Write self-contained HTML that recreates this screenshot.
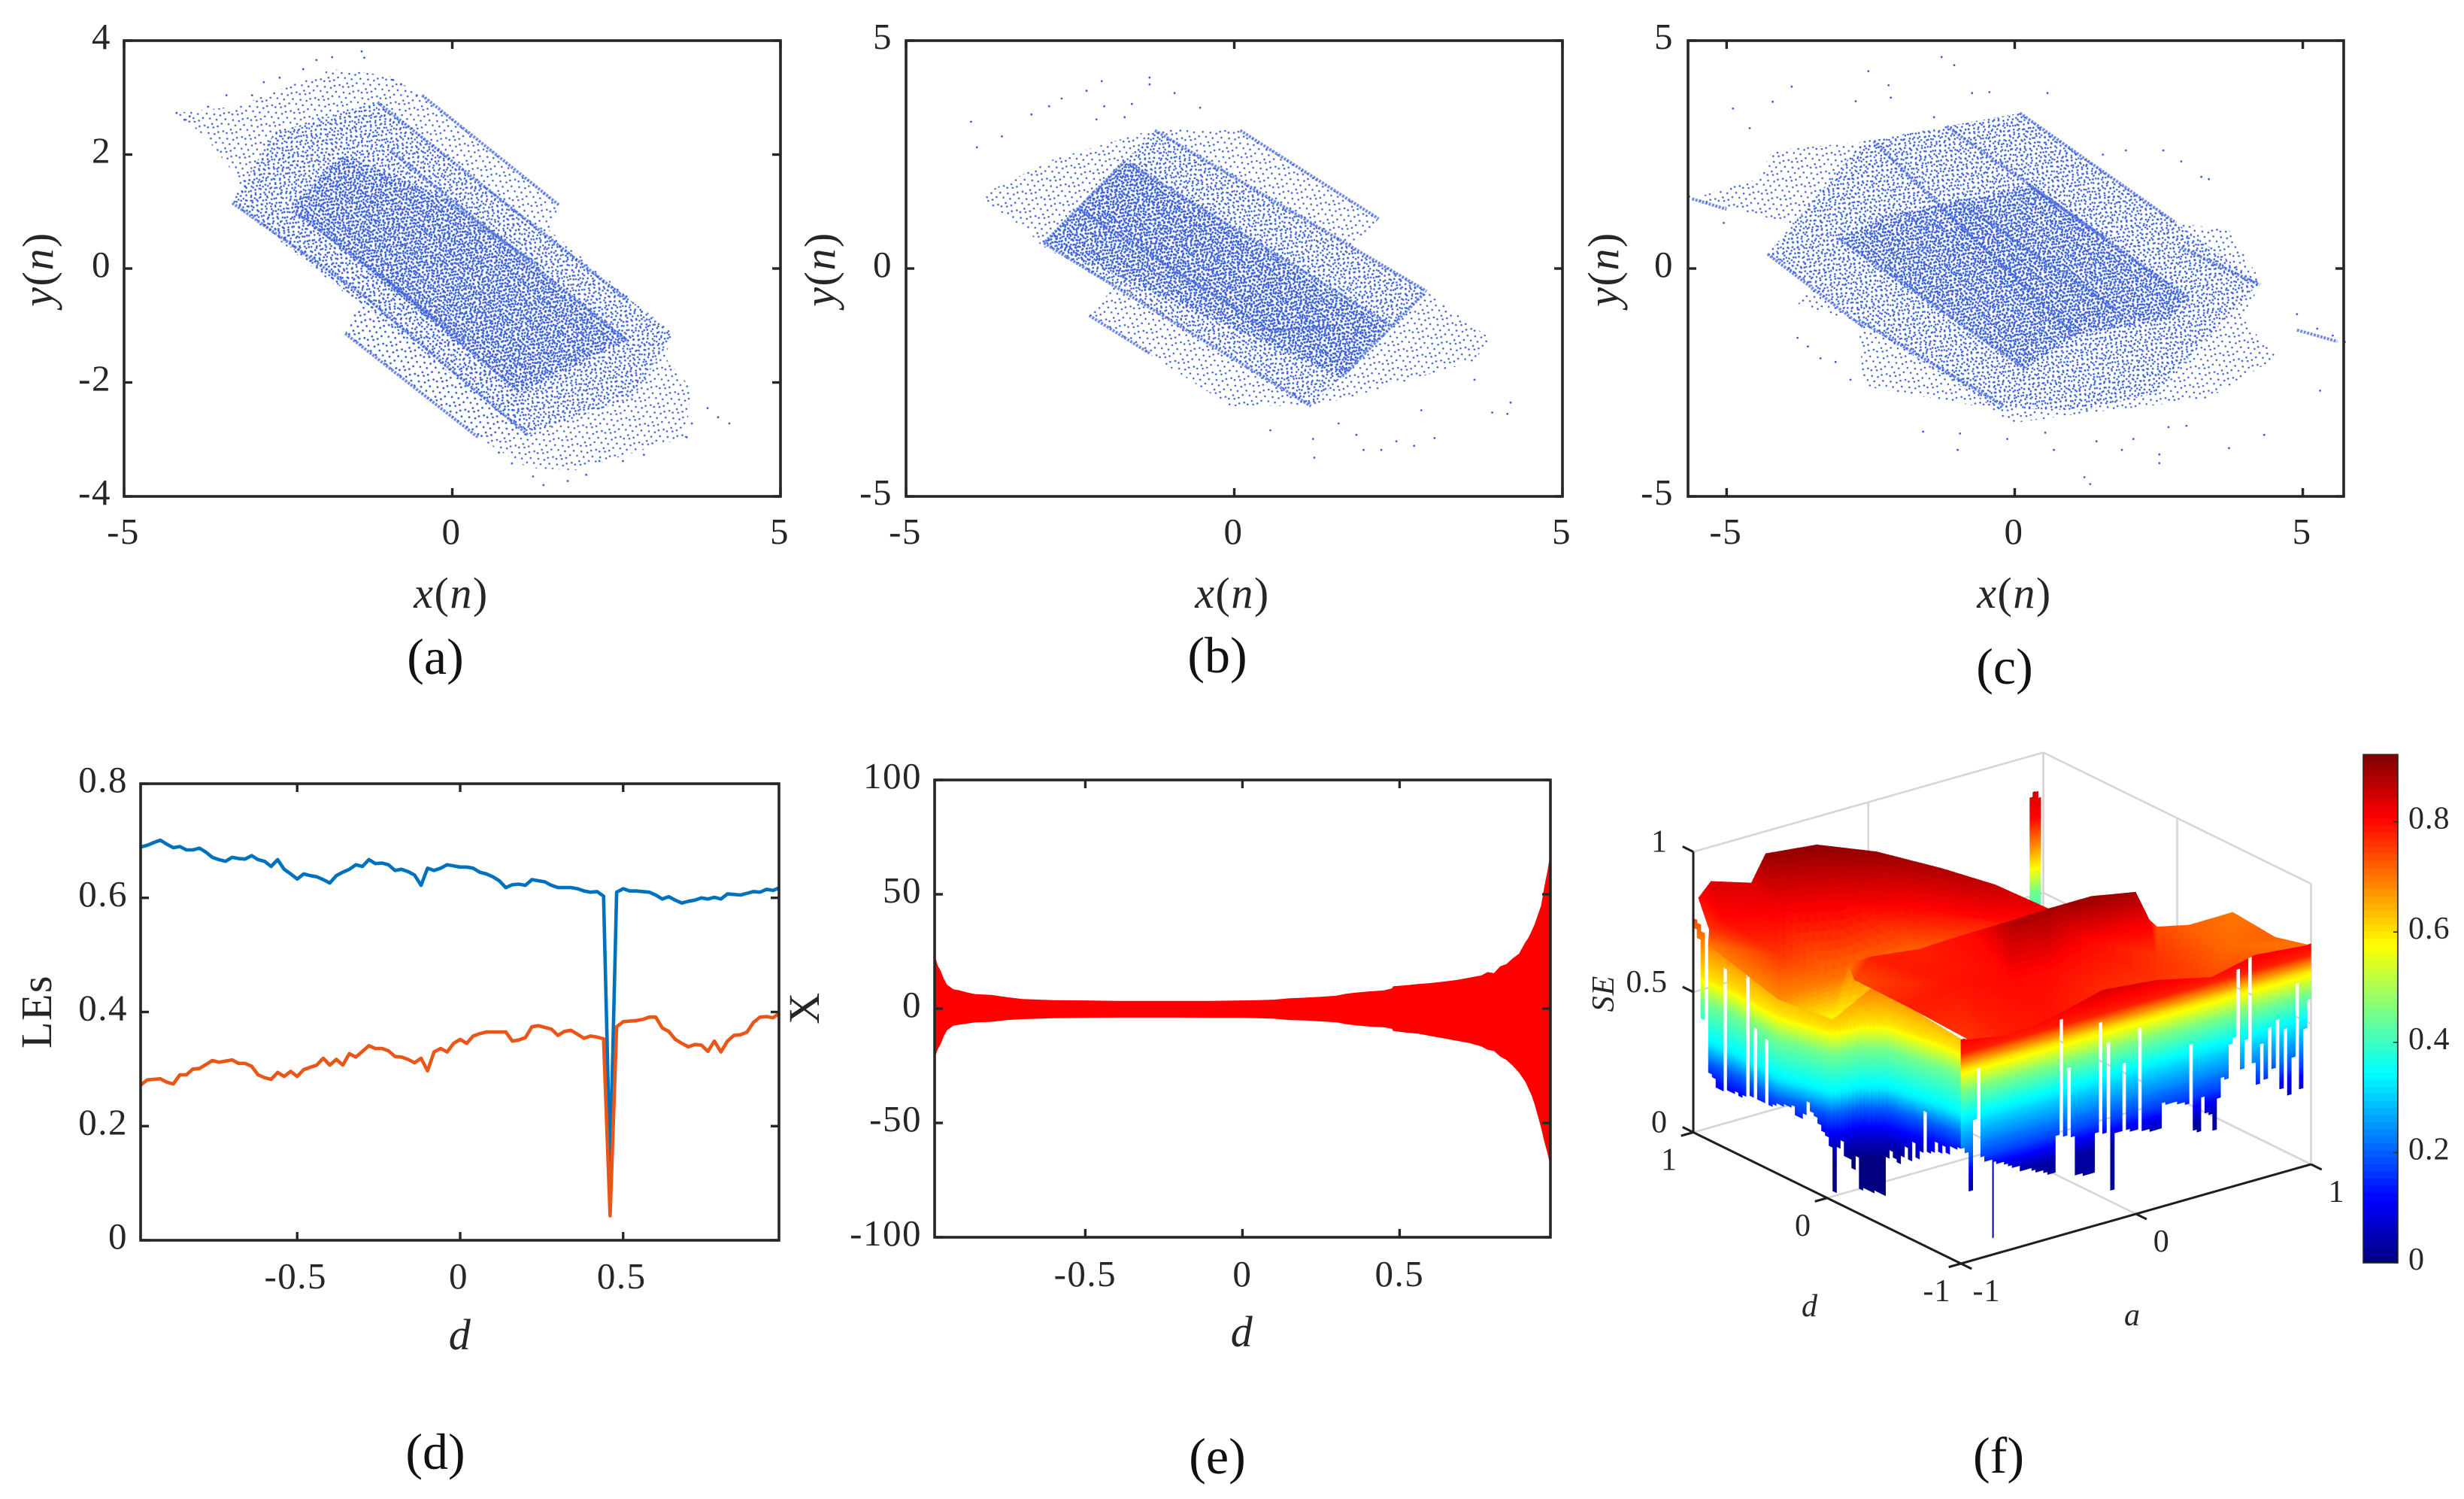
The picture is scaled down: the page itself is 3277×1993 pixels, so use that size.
<!DOCTYPE html>
<html lang="en">
<head>
<meta charset="utf-8">
<title>Attractors, Lyapunov exponents, bifurcation and SE surface</title>
<style>
html,body{margin:0;padding:0;background:#fff;}
svg{display:block;}
text{font-family:"Liberation Serif","DejaVu Serif",serif;fill:#262626;}
.tick{font-size:49px;letter-spacing:1.5px;}
.tick3d{font-size:42px;letter-spacing:1px;}
.axis-label{font-size:58px;letter-spacing:1.5px;}
.panel-tag{font-size:68px;fill:#111;}
.it{font-style:italic;}
</style>
</head>
<body>
<svg id="figure" xmlns="http://www.w3.org/2000/svg" width="3277" height="1993" viewBox="0 0 3277 1993">
<defs>
<pattern id="stipple-sparse" width="26" height="26" patternUnits="userSpaceOnUse" patternTransform="rotate(17)">
<g fill="#3a60da"><circle cx="2" cy="3" r="1.3"/><circle cx="9" cy="1" r="1.3"/><circle cx="17" cy="5" r="1.3"/><circle cx="23" cy="2" r="1.3"/><circle cx="5" cy="10" r="1.3"/><circle cx="13" cy="9" r="1.3"/><circle cx="21" cy="12" r="1.3"/><circle cx="1" cy="17" r="1.3"/><circle cx="10" cy="16" r="1.3"/><circle cx="18" cy="19" r="1.3"/><circle cx="6" cy="23" r="1.3"/><circle cx="14" cy="24" r="1.3"/></g>
</pattern>
<pattern id="stipple-medium" width="21" height="21" patternUnits="userSpaceOnUse" patternTransform="rotate(-23)">
<g fill="#3a60da"><circle cx="1" cy="2" r="1.35"/><circle cx="8" cy="4" r="1.35"/><circle cx="15" cy="1" r="1.35"/><circle cx="19" cy="7" r="1.35"/><circle cx="4" cy="8" r="1.35"/><circle cx="11" cy="10" r="1.35"/><circle cx="17" cy="13" r="1.35"/><circle cx="2" cy="14" r="1.35"/><circle cx="8" cy="16" r="1.35"/><circle cx="14" cy="19" r="1.35"/><circle cx="20" cy="18" r="1.35"/><circle cx="5" cy="20" r="1.35"/><circle cx="12" cy="5" r="1.35"/></g>
</pattern>
<pattern id="stipple-dense" width="17" height="17" patternUnits="userSpaceOnUse" patternTransform="rotate(41)">
<g fill="#3a60da"><circle cx="1" cy="1" r="1.45"/><circle cx="6" cy="3" r="1.45"/><circle cx="12" cy="2" r="1.45"/><circle cx="16" cy="6" r="1.45"/><circle cx="3" cy="7" r="1.45"/><circle cx="9" cy="8" r="1.45"/><circle cx="14" cy="11" r="1.45"/><circle cx="1" cy="12" r="1.45"/><circle cx="6" cy="13" r="1.45"/><circle cx="11" cy="15" r="1.45"/><circle cx="16" cy="15" r="1.45"/><circle cx="4" cy="16" r="1.45"/><circle cx="9" cy="12" r="1.45"/></g>
</pattern>
</defs>

<g id="layer-a"></g>
<g id="layer-b"></g>
<g id="layer-c"></g>
<g id="layer-d"></g>
<g id="layer-e"></g>
<g id="layer-f"></g>

<text class="axis-label" x="600" y="808" text-anchor="middle"><tspan class="it">x</tspan>(<tspan class="it">n</tspan>)</text>
<text class="axis-label" x="1639" y="808" text-anchor="middle"><tspan class="it">x</tspan>(<tspan class="it">n</tspan>)</text>
<text class="axis-label" x="2679" y="808" text-anchor="middle"><tspan class="it">x</tspan>(<tspan class="it">n</tspan>)</text>
<text class="axis-label" transform="translate(70,358) rotate(-90)" text-anchor="middle"><tspan class="it">y</tspan>(<tspan class="it">n</tspan>)</text>
<text class="axis-label" transform="translate(1110,358) rotate(-90)" text-anchor="middle"><tspan class="it">y</tspan>(<tspan class="it">n</tspan>)</text>
<text class="axis-label" transform="translate(2152,358) rotate(-90)" text-anchor="middle"><tspan class="it">y</tspan>(<tspan class="it">n</tspan>)</text>

<text class="axis-label" transform="translate(68,1345) rotate(-90)" text-anchor="middle">LEs</text>
<text class="axis-label it" x="612" y="1794" text-anchor="middle">d</text>
<text class="axis-label" transform="translate(1089,1340) rotate(-90)" text-anchor="middle">X</text>
<text class="axis-label it" x="1652" y="1790" text-anchor="middle">d</text>
<text class="tick3d it" transform="translate(2146,1321) rotate(-90)" text-anchor="middle">SE</text>
<text class="tick3d it" x="2407" y="1750" text-anchor="middle">d</text>
<text class="tick3d it" x="2836" y="1762" text-anchor="middle">a</text>

<text class="panel-tag" x="579" y="896" text-anchor="middle">(a)</text>
<text class="panel-tag" x="1619" y="894" text-anchor="middle">(b)</text>
<text class="panel-tag" x="2666" y="909" text-anchor="middle">(c)</text>
<text class="panel-tag" x="579" y="1953" text-anchor="middle">(d)</text>
<text class="panel-tag" x="1619" y="1959" text-anchor="middle">(e)</text>
<text class="panel-tag" x="2658" y="1958" text-anchor="middle">(f)</text>
</svg>

<script>
/* ---------- panel (a) data, in x(n), y(n) units ---------- */
const aXTicks = [-5, 0, 5];
const aYTicks = [-4, -2, 0, 2, 4];
const aSparseRegion = [[-4.2,2.73],[-3.27,2.85],[-1.83,3.5],[-.98,3.39],[-.46,3.04],[1.63,1.11],[1.47,.68],[3.36,-1.14],[3.24,-1.56],[3.64,-2.1],[3.56,-2.96],[1.87,-3.54],[1.15,-3.5],[.43,-2.99],[-1.63,-1.14],[-1.42,-.63],[-3.35,1.18],[-3.23,1.53],[-3.76,2.31]];
const aMediumRegion = [[-2.71,2.38],[-1.14,2.92],[3.36,-1.14],[2.76,-2.26],[1.15,-2.92],[-3.35,1.18]];
const aDenseRegion = [[-1.67,2],[-.22,1.3],[2.68,-1.25],[1.03,-2.18],[-2.47,1.07]];
const aLowerStrip = [[-3.35,1.15],[-2.4,1],[1.1,-2.2],[1.15,-2.92],[.39,-2.96],[-1.63,-1.14],[-1.42,-.63]];
const aEdges = [
  [[-1.14,2.92],[2.68,-.56]],
  [[-.94,2.07],[2.68,-1.29]],
  [[-3.35,1.15],[-1.34,-.48],[1.15,-2.92]],
  [[-1.63,-1.14],[.39,-2.96]],
  [[-.46,3.04],[1.63,1.11]],
  [[-2.39,.99],[.19,-1.25]],
  [[-1.1,-.09],[1.03,-2.18]],
  [[-.14,1.22],[1.31,.06]]
];
const aStrayPoints = [[-4.2,2.73],[-4.08,2.61],[-4,2.67],[-3.72,2.84],[-3.44,3.04],[-3.05,3.04],[-2.87,3.27],[-2.63,3.35],[-2.27,3.5],[-2.07,3.66],[-1.83,3.71],[-1.38,3.81],[-1.34,3.7],[-.9,3.31],[-.78,3.23],[-.54,3.04],[3.89,-2.45],[4.05,-2.61],[4.22,-2.72],[3.65,-2.72],[3.57,-2.96],[2.92,-3.27],[2.6,-3.38],[2.24,-3.38],[2.04,-3.62],[1.76,-3.73],[1.39,-3.8],[1.23,-3.65],[.91,-3.42],[.71,-3.23]];

/* ---------- panel (b) data ---------- */
const bXTicks = [-5, 0, 5];
const bYTicks = [-5, 0, 5];
const bSparseRegion = [[-3.9,1.58],[-2.75,2.4],[-1.21,3.06],[.09,3.03],[2.2,1.09],[1.78,.42],[2.93,-.5],[3.93,-1.57],[3.62,-2.05],[1.78,-2.82],[1.2,-3.02],[-.06,-3.02],[-2.21,-1.03],[-1.83,-.41],[-2.94,.51],[-3.17,.85]];
const bMediumRegion = [[-1.67,2.35],[-1.21,3.03],[2.93,-.5],[1.63,-2.39],[1.17,-3.02],[-2.9,.56]];
const bDenseRegion = [[-1.67,2.35],[2.32,-1.28],[1.63,-2.39],[-2.9,.56]];
const bCoreRegion = [[-2.33,1.29],[-1.6,2.3],[2.36,-1.23],[1.63,-2.34],[.55,-1.37]];
const bEdges = [
  [[-2.9,.56],[1.17,-3.02]],
  [[-2.21,-1.03],[-1.29,-1.86]],
  [[-1.21,3.03],[2.93,-.5]],
  [[.09,3.03],[2.2,1.09]],
  [[-1.67,2.35],[-2.9,.56]],
  [[-2.36,1.29],[.55,-1.37]],
  [[-1.6,2.3],[2.36,-1.23]],
  [[.55,-1.37],[1.47,-1.28]],
  [[2.89,-.55],[1.63,-2.39]]
];
const bStrayPoints = [[-4.01,3.22],[-3.92,2.66],[-3.54,2.9],[-3.09,3.38],[-2.63,3.73],[-2.25,3.9],[-2.02,4.11],[-1.29,4.19],[-1.29,4.04],[-.91,3.85],[-.52,3.53],[-1.98,3.56],[-1.56,3.61],[-1.67,3.32],[-2.1,3.27],[-2.82,3.56],[4.21,-2.94],[4.16,-3.19],[3.93,-3.16],[3.05,-3.72],[2.24,-3.98],[1.97,-3.98],[1.22,-4.15],[1.2,-3.74],[.55,-3.55],[2.47,-3.79],[2.74,-3.89],[1.86,-3.65],[1.59,-3.4],[2.85,-3.11],[3.66,-2.44]];

/* ---------- panel (c) data ---------- */
const cXTicks = [-5, 0, 5];
const cYTicks = [-5, 0, 5];
const cSparseRegion = [[-5.6,1.53],[-4.47,1.96],[-4.2,2.59],[-2.54,2.79],[-1.18,3.12],[.09,3.41],[2.8,1],[3.72,.85],[4.29,-.31],[3.94,-1.08],[4.55,-1.95],[3.33,-2.87],[1.31,-3.16],[-.09,-3.4],[-.44,-3.07],[-2.63,-2.58],[-2.71,-1.18],[-3.77,-.79],[-3.5,-.41],[-4.29,.32],[-3.77,.95]];
const cMediumRegion = [[-4.29,.32],[-2.63,2.79],[-1.18,3.12],[.09,3.41],[2.8,1],[4.25,-.31],[2.45,-2.73],[1.23,-3.11],[-.35,-3.07],[-2.71,-1.13]];
const cDenseRegion = [[-3.06,.66],[-2.28,1.14],[-1.01,1.48],[.26,1.82],[3.02,-.65],[2.71,-1.08],[1.05,-1.47],[.18,-2.2]];
const cCoreRegion = [[-1.84,1.04],[-1.01,1.48],[1.75,-.89],[1.05,-1.47]];
const cEdges = [
  [[-3.06,.66],[.18,-2.2]],
  [[-4.29,.32],[-2.63,-1.28]],
  [[-2.71,-1.13],[-.18,-3.02]],
  [[-1.01,1.48],[1.75,-.89]],
  [[.26,1.82],[3.02,-.65]],
  [[-1.18,3.12],[1.58,.66]],
  [[.09,3.41],[2.8,1]],
  [[-2.45,2.79],[1.05,-1.47]],
  [[2.89,.46],[4.25,-.36]],
  [[-5.6,1.53],[-5,1.3]],
  [[4.9,-1.35],[5.6,-1.6]]
];
const cStrayPoints = [[-1.27,4.64],[-1.05,4.46],[-2.54,4.33],[-3.87,3.99],[-4.2,3.66],[-4.89,3.51],[-4.6,3.08],[-2.19,4.02],[-2.15,3.75],[-2.76,3.67],[-.74,3.85],[-.44,3.87],[.57,3.85],[-1.4,3.32],[-5.65,1.58],[-5.05,1],[5.3,-2.68],[4.9,-1],[5.73,-1.61],[5.25,-1.32],[5.52,-1.47],[4.33,-3.65],[3.72,-3.94],[2.51,-4.27],[2.51,-4.08],[1.31,-4.73],[1.21,-4.58],[1.86,-3.98],[2.06,-3.74],[1.42,-3.79],[.68,-3.98],[-.13,-3.74],[-.99,-3.98],[-.95,-3.62],[-1.59,-3.58],[.53,-3.6],[2.98,-3.45],[2.67,-3.48],[-3.77,-1.52],[-3.59,-1.71],[-3.37,-1.97],[-3.11,-2.05],[-2.85,-2.44],[3.37,1.96],[2.89,2.35],[2.58,2.59],[1.93,2.59],[1.53,2.5],[3.24,2.01]];

/* ---------- panel (d) data ---------- */
const dXTicks = [-0.5, 0, 0.5];
const dYTicks = [0, 0.2, 0.4, 0.6, 0.8];
const dGrid = [-.98,-.96,-.94,-.92,-.9,-.88,-.86,-.84,-.82,-.8,-.78,-.76,-.74,-.72,-.7,-.68,-.66,-.64,-.62,-.6,-.58,-.56,-.54,-.52,-.5,-.48,-.46,-.44,-.42,-.4,-.38,-.36,-.34,-.32,-.3,-.28,-.26,-.24,-.22,-.2,-.18,-.16,-.14,-.12,-.1,-.08,-.06,-.04,-.02,0,.02,.04,.06,.08,.1,.12,.14,.16,.18,.2,.22,.24,.26,.28,.3,.32,.34,.36,.38,.4,.42,.44,.46,.48,.5,.52,.54,.56,.58,.6,.62,.64,.66,.68,.7,.72,.74,.76,.78,.8,.82,.84,.86,.88,.9,.92,.94,.96,.98];
const le1Values = [.689,.692,.697,.701,.694,.688,.69,.684,.684,.687,.68,.671,.667,.664,.671,.669,.668,.674,.667,.664,.655,.667,.65,.642,.633,.642,.639,.637,.632,.626,.639,.645,.65,.658,.655,.667,.66,.661,.658,.648,.65,.646,.64,.622,.652,.648,.652,.658,.656,.654,.654,.652,.645,.642,.637,.63,.618,.623,.624,.622,.632,.63,.628,.622,.618,.618,.618,.616,.612,.61,.611,.603,.13,.61,.616,.612,.612,.611,.61,.605,.598,.602,.596,.591,.594,.596,.6,.598,.601,.598,.607,.606,.605,.608,.611,.61,.615,.613,.618];
const le2Values = [.272,.281,.282,.283,.277,.274,.29,.29,.3,.301,.308,.315,.312,.314,.316,.31,.31,.305,.29,.285,.282,.294,.287,.296,.287,.299,.303,.307,.319,.307,.317,.307,.327,.321,.331,.341,.336,.336,.332,.322,.321,.317,.311,.319,.297,.33,.336,.33,.345,.352,.345,.358,.362,.365,.365,.365,.365,.349,.351,.355,.374,.376,.373,.37,.359,.366,.368,.361,.354,.358,.356,.353,.043,.374,.383,.384,.385,.387,.391,.391,.372,.366,.352,.345,.339,.343,.342,.331,.349,.33,.349,.359,.36,.365,.382,.391,.392,.39,.398];

/* ---------- panel (e) data ---------- */
const eXTicks = [-0.5, 0, 0.5];
const eYTicks = [-100, -50, 0, 50, 100];
const eD = [-.98,-.97,-.96,-.95,-.94,-.92,-.9,-.88,-.85,-.8,-.75,-.7,-.6,-.5,-.4,-.3,-.2,-.1,0,.05,.1,.15,.2,.25,.3,.33,.36,.4,.45,.475,.48,.52,.56,.6,.64,.68,.72,.76,.78,.8,.82,.84,.86,.88,.9,.91,.92,.93,.94,.95,.96,.97,.98];
const eUpper = [24,19,16.5,13,10.5,8.5,8,7.2,6.3,6,5,4.2,3.7,3.6,3.4,3.4,3.4,3.4,3.6,3.7,3.9,4.5,4.8,5.2,5.7,6.5,7,7.5,8,8.8,9.8,10.2,10.8,11.2,11.8,12.5,13.5,14.5,16,15.5,18.5,19.5,22,24,29,31,34,37,41,45,53,60,68];
const eLower = [-22,-18,-15.5,-12,-9.5,-7.5,-7,-6.6,-6,-5.8,-5,-4.6,-4.2,-4,-3.9,-3.9,-3.9,-4,-4,-4.2,-4.4,-5,-5.2,-5.6,-6,-6.8,-7.3,-7.8,-8.2,-8.8,-9.8,-10.5,-11,-12,-13,-14,-15,-16.5,-18,-18.5,-21,-22.5,-25,-28,-32,-35,-38,-42,-47,-52,-58,-63,-69];

/* ---------- panel (f) data: surface vertices, facets and front curtains ---------- */
const fZTicks = [0, 0.5, 1];
const fDTicks = [-1, 0, 1];
const fATicks = [-1, 0, 1];
const colorbarTicks = [0, 0.2, 0.4, 0.6, 0.8];
const colorbarMax = 0.922;
const surfA = [-.97,-.906,-.668,-.586,-.294,-.13,.086,.18,.28,-.98,-.77,-.54,-.26,0,-1,-.87,-.73,-.41,.02,-1,-1,-1,-1,-1,-1,-.96,-.74,-.5,-.19,.12,.43,.68,.98,-.72,-.49,-.17,-.03,.13,.32,.51,.52,.58,.71,.92,.91,-.34,.19,-.63,.37,.7,-.17];
const surfD = [1,.99,1,1,1,.77,.57,.29,.01,.79,.66,.47,.28,.06,.88,.53,.3,.09,-.04,.887,.362,-.042,-.164,-.204,-.608,-1,-1,-1,-1,-1,-1,-1,-1,.04,-.02,0,-.13,-.17,-.25,-.33,-.42,-.4,-.47,-.52,-.85,-.51,-.42,-.45,-.67,-.76,-.57];
const surfZ = [.83,.88,.83,.92,.9,.9,.85,.84,.8,.8,.85,.87,.83,.8,.75,.72,.66,.76,.8,.694,.623,.647,.869,.826,.823,.793,.769,.783,.834,.814,.769,.804,.786,.8,.8,.8,.85,.87,.9,.9,.82,.78,.78,.8,.79,.78,.8,.8,.78,.78,.8];
const surfC = [.8,.84,.84,.9,.91,.9,.88,.86,.82,.8,.82,.82,.8,.8,.76,.76,.7,.72,.78,.7,.68,.58,.7,.74,.78,.76,.78,.79,.77,.76,.74,.72,.7,.78,.78,.8,.88,.89,.9,.89,.82,.74,.72,.7,.72,.8,.8,.79,.76,.71,.8];
const hillFacets = [[0,1,9],[1,2,9],[2,10,9],[2,3,10],[3,4,10],[4,11,10],[4,5,11],[5,12,11],[5,6,12],[6,13,12],[6,7,13],[7,8,13],[0,9,14],[9,15,14],[9,10,15],[10,16,15],[10,11,16],[11,17,16],[11,12,17],[12,18,17],[12,13,18],[13,8,18],[14,15,19],[15,20,19],[15,16,20],[16,21,20],[16,17,21],[17,22,21],[17,33,22],[17,34,33],[17,35,34],[17,18,35]];
const plateauFacets = [[22,33,23],[33,47,23],[23,47,24],[24,47,25],[47,26,25],[33,34,47],[34,45,47],[47,45,26],[45,27,26],[34,35,45],[35,36,45],[45,50,27],[50,28,27],[50,46,28],[46,29,28],[46,48,29],[48,30,29],[48,49,30],[49,31,30],[49,32,31],[49,44,32],[41,42,49],[41,49,48],[42,43,49],[43,44,49],[40,41,48],[46,40,48],[37,38,46],[38,39,46],[39,40,46],[37,46,50],[36,37,50],[36,50,45]];

/* left curtain lies on a = -1, right curtain on d = -1 */
const leftTopD = [.97,.887,.362,-.042,-.143,-.164,-.204,-.608,-1];
const leftTopZ = [.763,.694,.623,.647,.776,.869,.826,.823,.8];
const rightTopA = [-1,-.96,-.74,-.5,-.19,.12,.43,.68,.98,1];
const rightTopZ = [.8,.793,.769,.783,.834,.814,.769,.804,.786,.786];
const leftBottomZ = [.8,.73,.7,.42,.75,.24,.23,.2,.2,.64,.21,.21,.22,.21,.22,.73,.23,.48,.23,.23,.46,.23,.24,.25,.25,.26,.26,.27,.24,.24,.26,.31,.28,.27,.25,.23,.22,.19,.035,.2,.23,.18,.18,.15,.2,.09,.1,.1,.1,.11,.11,.11,.25,.28,.26,.25,.28,.32,.28,.35,.3,.33,.48,.34,.35,.39,.36,.39,.37,.4,.4,.41];
const rightBottomZ = [.41,.39,.25,.5,.68,.36,.34,.34,.33,.32,.32,.31,.3,.29,.29,.27,.27,.27,.26,.25,.25,.24,.23,.23,.36,.77,.35,.59,.34,.2,.2,.19,.19,.19,.33,.72,.32,.64,.11,.31,.31,.55,.31,.3,.3,.66,.29,.29,.28,.28,.28,.37,.36,.36,.36,.35,.35,.34,.55,.24,.23,.35,.29,.28,.22,.33,.4,.39,.51,.53,.77,.41,.51,.8,.42,.34,.48,.35,.53,.38,.55,.3,.51,.27,.4,.66,.28,.49,.59,.73];
const leftColorZ = [.09,.15,.27,.34,.48,.57,.78,.9];
const leftColorC = [0,.05,.2,.33,.45,.6,.75,.85];
const leftColorShiftD = [1,.71,.362,-.042,-.25,-.446,-.85,-1];
const leftColorShift = [0,.01,0,.04,.11,.155,.185,.19];
const rightColorZ = [.27,.36,.51,.61,.69,.75,.85];
const rightColorC = [.03,.17,.33,.45,.6,.78,.85];
const spikeA = [-.945,-.82];
const spikeBottomZ = [.26,.06];
const spikeTopZ = [.79,.77];
const towerA = [.908,.925,.94,.955,.97];
const towerTopZ = [.843,.875,.878,.87,.83];
const towerBottomZ = [.47,.47,.47,.47,.47];
const towerColorZ = [.45,.52,.62,.78,.88];
const towerColorC = [.4,.45,.6,.8,.85];

/* ---------- helpers ---------- */
const NS = 'http://www.w3.org/2000/svg';
function make(parent, tag, attrs, name) {
  const node = document.createElementNS(NS, tag);
  for (const k in attrs) node.setAttribute(k, attrs[k]);
  
  
  parent.appendChild(node);
  return node;
}
function linear(d0, d1, r0, r1) { return v => r0 + (v - d0) * (r1 - r0) / (d1 - d0); }
function lerpTable(xs, ys, v) {
  if (xs[0] > xs[xs.length - 1]) { xs = xs.slice().reverse(); ys = ys.slice().reverse(); }
  if (v <= xs[0]) return ys[0];
  for (let i = 1; i < xs.length; i++) {
    if (v <= xs[i]) return ys[i - 1] + (ys[i] - ys[i - 1]) * (v - xs[i - 1]) / (xs[i] - xs[i - 1]);
  }
  return ys[ys.length - 1];
}
function jetColor(c) {
  const t = Math.max(0, Math.min(1, c / colorbarMax));
  const f = v => Math.round(255 * Math.max(0, Math.min(1, v)));
  return 'rgb(' + f(Math.min(4 * t - 1.5, -4 * t + 4.5)) + ',' + f(Math.min(4 * t - .5, -4 * t + 3.5)) + ',' + f(Math.min(4 * t + .5, -4 * t + 2.5)) + ')';
}
function label(parent, cls, x, y, anchor, str, name) {
  const t = make(parent, 'text', { class: cls, x: x, y: y, 'text-anchor': anchor }, name);
  t.textContent = str;
  return t;
}
function frame(parent, box, sx, sy, xTicks, yTicks, xTickDx, yLabelX, xLabelY, key) {
  make(parent, 'rect', { x: box.left, y: box.top, width: box.right - box.left, height: box.bottom - box.top, fill: 'none', stroke: '#262626', 'stroke-width': 3.6 }, 'plot-frame-' + key);
  xTicks.forEach(v => {
    const x = sx(v);
    make(parent, 'line', { x1: x, x2: x, y1: box.bottom, y2: box.bottom - 11, stroke: '#262626', 'stroke-width': 3.4 }, 'x-tick-' + key);
    make(parent, 'line', { x1: x, x2: x, y1: box.top, y2: box.top + 11, stroke: '#262626', 'stroke-width': 3.4 }, 'x-tick-top-' + key);
    label(parent, 'tick', x + xTickDx, xLabelY, 'middle', String(v), 'x-tick-label-' + key);
  });
  yTicks.forEach(v => {
    const y = sy(v);
    make(parent, 'line', { x1: box.left, x2: box.left + 11, y1: y, y2: y, stroke: '#262626', 'stroke-width': 3.4 }, 'y-tick-' + key);
    make(parent, 'line', { x1: box.right, x2: box.right - 11, y1: y, y2: y, stroke: '#262626', 'stroke-width': 3.4 }, 'y-tick-right-' + key);
    label(parent, 'tick', yLabelX, y + 11, 'end', String(v), 'y-tick-label-' + key);
  });
}

/* ---------- scatter panels ---------- */
function scatterPanel(key, box, xDom, yDom, xTicks, yTicks, regions, edges, strays, yLabelX) {
  const root = document.getElementById('layer-' + key);
  const sx = linear(xDom[0], xDom[1], box.left, box.right);
  const sy = linear(yDom[0], yDom[1], box.bottom, box.top);
  const pts = arr => arr.map(p => sx(p[0]).toFixed(1) + ',' + sy(p[1]).toFixed(1)).join(' ');
  regions.forEach(r => {
    make(root, 'polygon', { points: pts(r.poly), fill: 'url(#' + r.fill + ')' }, r.name + '-' + key);
  });
  edges.forEach(e => {
    make(root, 'polyline', { points: pts(e), fill: 'none', stroke: '#3a60da', 'stroke-width': 4, 'stroke-opacity': .72, 'stroke-dasharray': '3 1.6' }, 'dense-trajectory-edge-' + key);
  });
  strays.forEach(p => {
    make(root, 'circle', { cx: sx(p[0]).toFixed(1), cy: sy(p[1]).toFixed(1), r: 1.4, fill: '#3a60da' }, 'scatter-point-' + key);
  });
  frame(root, box, sx, sy, xTicks, yTicks, -1, yLabelX, 723, key);
}
const boxA = { left: 165, right: 1038, top: 54, bottom: 660 };
const boxB = { left: 1205, right: 2078, top: 54, bottom: 660 };
const boxC = { left: 2245, right: 3117, top: 54, bottom: 660 };
scatterPanel('a', boxA, [-5, 5], [-4, 4], aXTicks, aYTicks, [
  { poly: aSparseRegion, fill: 'stipple-sparse', name: 'sparse-cloud' },
  { poly: aMediumRegion, fill: 'stipple-medium', name: 'medium-cloud' },
  { poly: aLowerStrip, fill: 'stipple-sparse', name: 'lower-strip-cloud' },
  { poly: aDenseRegion, fill: 'stipple-dense', name: 'dense-cloud' }
], aEdges, aStrayPoints, 148);
scatterPanel('b', boxB, [-5, 5], [-5, 5], bXTicks, bYTicks, [
  { poly: bSparseRegion, fill: 'stipple-sparse', name: 'sparse-cloud' },
  { poly: bMediumRegion, fill: 'stipple-medium', name: 'medium-cloud' },
  { poly: bDenseRegion, fill: 'stipple-dense', name: 'dense-cloud' },
  { poly: bCoreRegion, fill: 'stipple-medium', name: 'core-cloud' }
], bEdges, bStrayPoints, 1187);
scatterPanel('c', boxC, [-5.67, 5.71], [-5, 5], cXTicks, cYTicks, [
  { poly: cSparseRegion, fill: 'stipple-sparse', name: 'sparse-cloud' },
  { poly: cMediumRegion, fill: 'stipple-medium', name: 'medium-cloud' },
  { poly: cDenseRegion, fill: 'stipple-dense', name: 'dense-cloud' },
  { poly: cCoreRegion, fill: 'stipple-medium', name: 'core-cloud' }
], cEdges, cStrayPoints, 2226);

/* ---------- panel d ---------- */
(function () {
  const root = document.getElementById('layer-d');
  const box = { left: 187, right: 1036, top: 1042, bottom: 1649 };
  const sx = linear(0, 1, 612, 1045.5);
  const sy = linear(0, 0.8, box.bottom, box.top);
  const toPts = vals => vals.map((v, i) => sx(dGrid[i]).toFixed(1) + ',' + sy(v).toFixed(1)).join(' ');
  make(root, 'polyline', { points: toPts(le1Values), fill: 'none', stroke: '#0072BD', 'stroke-width': 4.6, 'stroke-linejoin': 'round' }, 'le1-line');
  make(root, 'polyline', { points: toPts(le2Values), fill: 'none', stroke: '#EA5518', 'stroke-width': 4.6, 'stroke-linejoin': 'round' }, 'le2-line');
  frame(root, box, sx, sy, dXTicks, dYTicks, -2, 170, 1713, 'd');
})();

/* ---------- panel e ---------- */
(function () {
  const root = document.getElementById('layer-e');
  const box = { left: 1243, right: 2062, top: 1037, bottom: 1645 };
  const sx = linear(0, 1, 1652.4, 2070.4);
  const sy = linear(-100, 100, box.bottom, box.top);
  const up = eD.map((d, i) => sx(d).toFixed(1) + ',' + sy(eUpper[i]).toFixed(1));
  const lo = eD.map((d, i) => sx(d).toFixed(1) + ',' + sy(eLower[i]).toFixed(1)).reverse();
  make(root, 'polygon', { points: up.concat(lo).join(' '), fill: '#ff0000' }, 'bifurcation-band');
  frame(root, box, sx, sy, eXTicks, eYTicks, 0, 1226, 1710, 'e');
})();

/* ---------- panel f ---------- */
(function () {
  const root = document.getElementById('layer-f');
  function project(a, d, z) {
    const u = (a + 1) / 2, v = (d + 1) / 2;
    return [2608 + 465.5 * u - 356 * v, 1680 - 132 * u - 174.5 * v - 373 * z];
  }
  const pStr = (a, d, z) => { const p = project(a, d, z); return p[0].toFixed(1) + ' ' + p[1].toFixed(1); };
  function seg(a1, d1, z1, a2, d2, z2, stroke, w, name) {
    const p = project(a1, d1, z1), q = project(a2, d2, z2);
    make(root, 'line', { x1: p[0], y1: p[1], x2: q[0], y2: q[1], stroke: stroke, 'stroke-width': w }, name);
  }
  /* back walls and floor */
  const GRID = '#d6d6d6';
  fZTicks.forEach(z => {
    seg(-1, 1, z, 1, 1, z, GRID, 2.6, 'back-wall-gridline');
    seg(1, 1, z, 1, -1, z, GRID, 2.6, 'side-wall-gridline');
  });
  [-1, 0, 1].forEach(a => { seg(a, 1, 0, a, 1, 1, GRID, 2.6, 'back-wall-gridline'); seg(a, -1, 0, a, 1, 0, GRID, 2.6, 'floor-gridline'); });
  [-1, 0, 1].forEach(d => { seg(1, d, 0, 1, d, 1, GRID, 2.6, 'side-wall-gridline'); seg(-1, d, 0, 1, d, 0, GRID, 2.6, 'floor-gridline'); });

  /* vertical curtains, sliced into bands and grouped by quantised colour value */
  const STEP = 0.008;
  function curtain(name, columns, colorOf) {
    const byColor = {};
    columns.forEach(col => {
      if (col.top <= col.bottom) return;
      let lvl = Math.floor(col.bottom / STEP);
      for (; lvl * STEP < col.top; lvl++) {
        const z0 = Math.max(lvl * STEP, col.bottom);
        const z1 = Math.min((lvl + 1) * STEP, col.top);
        const part = 'M' + pStr(col.a1, col.d1, z0) + 'L' + pStr(col.a2, col.d2, z0) + 'L' + pStr(col.a2, col.d2, z1) + 'L' + pStr(col.a1, col.d1, z1) + 'Z';
        const key = Math.round(colorOf((z0 + z1) / 2, col) * 200);
        byColor[key] = (byColor[key] || '') + part;
      }
    });
    Object.keys(byColor).forEach(key => {
      const c = jetColor(+key / 200);
      make(root, 'path', { d: byColor[key], fill: c, stroke: c, 'stroke-width': .6 }, name);
    });
  }
  const towerCols = [];
  for (let i = 0; i + 1 < towerA.length; i++) {
    towerCols.push({ a1: towerA[i], d1: .98, a2: towerA[i + 1], d2: .98, top: (towerTopZ[i] + towerTopZ[i + 1]) / 2, bottom: towerBottomZ[i] });
  }
  curtain('isolated-surface-spike', towerCols, z => lerpTable(towerColorZ, towerColorC, z));
  const leftCols = [];
  for (let k = 0; k + 1 < leftBottomZ.length; k++) {
    const d1 = 1 - 2 * k / (leftBottomZ.length - 1), d2 = 1 - 2 * (k + 1) / (leftBottomZ.length - 1);
    const dm = (d1 + d2) / 2;
    leftCols.push({ a1: -1, d1: d1, a2: -1, d2: d2, top: lerpTable(leftTopD, leftTopZ, dm), bottom: leftBottomZ[k + 1], shift: lerpTable(leftColorShiftD, leftColorShift, dm) });
  }
  curtain('surface-left-curtain', leftCols, (z, col) => lerpTable(leftColorZ, leftColorC, z - col.shift));

  /* triangulated top surface with per-vertex colour data */
  const N = 8;
  function facet(tri, name) {
    const A = tri[0], B = tri[1], C = tri[2];
    const at = (i, j) => {
      const w0 = 1 - (i + j) / N, w1 = i / N, w2 = j / N;
      return {
        a: surfA[A] * w0 + surfA[B] * w1 + surfA[C] * w2,
        d: surfD[A] * w0 + surfD[B] * w1 + surfD[C] * w2,
        z: surfZ[A] * w0 + surfZ[B] * w1 + surfZ[C] * w2,
        c: surfC[A] * w0 + surfC[B] * w1 + surfC[C] * w2
      };
    };
    const put = (p, q, r) => {
      const col = jetColor((p.c + q.c + r.c) / 3);
      const s = [p, q, r].map(o => { const xy = project(o.a, o.d, o.z); return xy[0].toFixed(1) + ',' + xy[1].toFixed(1); }).join(' ');
      make(root, 'polygon', { points: s, fill: col, stroke: col, 'stroke-width': .7 }, name);
    };
    for (let i = 0; i < N; i++) {
      for (let j = 0; j < N - i; j++) {
        put(at(i, j), at(i + 1, j), at(i, j + 1));
        if (i + j < N - 1) put(at(i + 1, j), at(i + 1, j + 1), at(i, j + 1));
      }
    }
  }
  hillFacets.forEach(t => facet(t, 'surface-hill-facet'));

  const rightCols = [];
  for (let k = 0; k + 1 < rightBottomZ.length; k++) {
    const a1 = -1 + 2 * k / (rightBottomZ.length - 1), a2 = -1 + 2 * (k + 1) / (rightBottomZ.length - 1);
    rightCols.push({ a1: a1, d1: -1, a2: a2, d2: -1, top: lerpTable(rightTopA, rightTopZ, (a1 + a2) / 2), bottom: rightBottomZ[k] });
  }
  curtain('surface-right-curtain', rightCols, z => lerpTable(rightColorZ, rightColorC, z));
  const spikeCols = spikeA.map((a, i) => ({ a1: a, d1: -1, a2: a + .006, d2: -1, top: spikeTopZ[i], bottom: spikeBottomZ[i] }));
  curtain('surface-thin-spike', spikeCols, z => lerpTable(rightColorZ, rightColorC, z));
  plateauFacets.forEach(t => facet(t, 'surface-plateau-facet'));

  /* black axes */
  const AX = '#1e1e1e';
  seg(-1, 1, 0, -1, 1, 1, AX, 3, 'z-axis-line');
  seg(-1, 1, 0, -1, -1, 0, AX, 3, 'd-axis-line');
  seg(-1, -1, 0, 1, -1, 0, AX, 3, 'a-axis-line');
  fZTicks.forEach(z => {
    seg(-1, 1, z, -1, 1.08, z, AX, 3, 'z-tick');
    const p = project(-1, 1, z);
    label(root, 'tick3d', p[0] - 34, p[1] - 0, 'end', String(z), 'z-tick-label');
  });
  fDTicks.forEach(d => {
    seg(-1, d, 0, -1.07, d, 0, AX, 3, 'd-tick');
    const p = project(-1, d, 0);
    label(root, 'tick3d', p[0] - 32, p[1] + 50, 'middle', String(d), 'd-tick-label');
  });
  fATicks.forEach(a => {
    seg(a, -1, 0, a, -1.08, 0, AX, 3, 'a-tick');
    const p = project(a, -1, 0);
    label(root, 'tick3d', p[0] + 34, p[1] + 50, 'middle', String(a), 'a-tick-label');
  });

  /* colour bar */
  const cbY = linear(0, 1, 1679, 946);
  const cbLevels = 72;
  for (let i = 0; i < cbLevels; i++) {
    const c0 = colorbarMax * i / cbLevels, c1 = colorbarMax * (i + 1) / cbLevels;
    make(root, 'rect', { x: 3143, y: cbY(c1), width: 46, height: cbY(c0) - cbY(c1) + .6, fill: jetColor((c0 + c1) / 2) }, 'colorbar-swatch');
  }
  make(root, 'rect', { x: 3143, y: cbY(colorbarMax), width: 46, height: cbY(0) - cbY(colorbarMax), fill: 'none', stroke: '#262626', 'stroke-width': 1.6 }, 'colorbar-frame');
  colorbarTicks.forEach(v => {
    const y = cbY(v);
    make(root, 'line', { x1: 3183, x2: 3189, y1: y, y2: y, stroke: '#262626', 'stroke-width': 1.6 }, 'colorbar-tick');
    label(root, 'tick3d', 3203, y + 9, 'start', String(v), 'colorbar-tick-label');
  });
})();
</script>
</body>
</html>
